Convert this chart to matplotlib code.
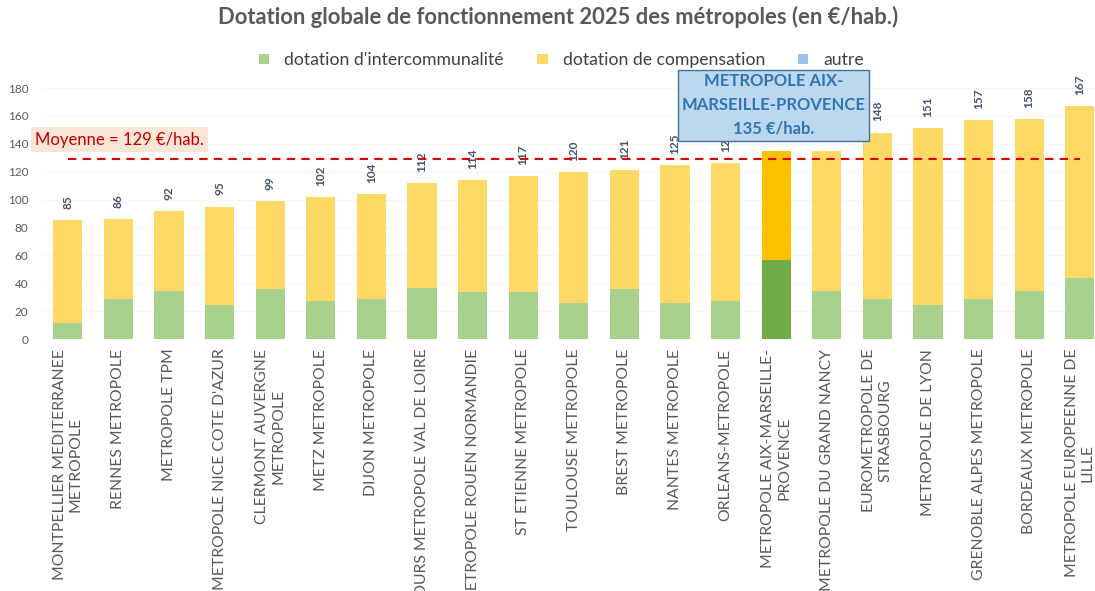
import matplotlib.pyplot as plt
import numpy as np

plt.rcParams['font.family'] = ['Lato', 'DejaVu Sans']

# data
metropoles = [
    "MONTPELLIER MEDITERRANEE\nMETROPOLE", "RENNES METROPOLE", "METROPOLE TPM",
    "METROPOLE NICE COTE D'AZUR", "CLERMONT AUVERGNE\nMETROPOLE", "METZ METROPOLE",
    "DIJON METROPOLE", "TOURS METROPOLE VAL DE LOIRE", "METROPOLE ROUEN NORMANDIE",
    "ST ETIENNE METROPOLE", "TOULOUSE METROPOLE", "BREST METROPOLE",
    "NANTES METROPOLE", "ORLEANS-METROPOLE", "METROPOLE AIX-MARSEILLE-\nPROVENCE",
    "METROPOLE DU GRAND NANCY", "EUROMETROPOLE DE\nSTRASBOURG", "METROPOLE DE LYON",
    "GRENOBLE ALPES METROPOLE", "BORDEAUX METROPOLE", "METROPOLE EUROPEENNE DE\nLILLE",
]
totals = [85, 86, 92, 95, 99, 102, 104, 112, 114, 117, 120, 121, 125, 126, 135, 135,
          148, 151, 157, 158, 167]
intercommunalite = [11.5, 29, 34.5, 24.5, 35.5, 27.5, 29, 36.5, 34, 34, 26, 35.5,
                    26, 27.5, 57, 34.5, 28.5, 24.5, 29, 34.5, 43.5]
autre = [0] * len(totals)
moyenne = 129
highlight = 14  # Aix-Marseille-Provence

compensation = [t - i - a for t, i, a in zip(totals, intercommunalite, autre)]

fig = plt.figure(figsize=(10.95, 5.91), dpi=100)
# axes runs a little past the right edge, as in the cropped original
ax = fig.add_axes([42.5 / 1095, 252 / 591, 21 * 50.6 / 1095, 251 / 591])

x = np.arange(len(totals))
green = ['#A9D18E'] * len(x)
yellow = ['#FFD966'] * len(x)
green[highlight] = '#70AD47'
yellow[highlight] = '#FFC000'

w = 0.575
ax.bar(x, intercommunalite, w, color=green, zorder=2, label="dotation d'intercommunalité")
ax.bar(x, compensation, w, bottom=intercommunalite, color=yellow, zorder=2,
       label="dotation de compensation")
ax.bar(x, autre, w, bottom=np.add(intercommunalite, compensation), color='#9DC3E6',
       zorder=2, label="autre")

for xi, t in zip(x, totals):
    ax.text(xi, t + 8, str(t), rotation=90, ha='center', va='bottom',
            fontsize=8.5, fontweight='bold', color='#44546A', zorder=3)

ax.plot([0, x[-1]], [moyenne, moyenne], color='#E00000', lw=1.5,
        dashes=(4, 3), zorder=4)
ax.text(1.02, 143, "Moyenne = 129 €/hab.", ha='center', va='center', fontsize=12,
        color='#C00000', zorder=5,
        bbox=dict(boxstyle='square,pad=0.25', fc='#FBE5D6', ec='none'))

ax.text(13.95, 167.7, "METROPOLE AIX-\nMARSEILLE-PROVENCE\n135 €/hab.", ha='center',
        va='center', fontsize=12, fontweight='bold', color='#2E75B6',
        linespacing=1.6, zorder=10,
        bbox=dict(boxstyle='square,pad=0.22', fc='#BDD7EE', ec='#41719C', lw=1))

ax.set_xlim(-0.5, len(x) - 0.5)
ax.set_ylim(0, 180)
ax.set_yticks(range(0, 181, 20))
ax.tick_params(axis='y', length=0, labelsize=8.5, labelcolor='#595959', pad=10)
ax.set_xticks(x)
ax.set_xticklabels(metropoles, rotation=90, fontsize=11.3, color='#595959',
                   multialignment='center')
ax.tick_params(axis='x', length=0, pad=7)
ax.grid(axis='y', color='#E3E3E3', lw=0.6, ls=(0, (1, 2)), zorder=0)
for s in ax.spines.values():
    s.set_visible(False)

fig.suptitle("Dotation globale de fonctionnement 2025 des métropoles (en €/hab.)",
             x=0.51, y=0.99, fontsize=15.8, fontweight='bold', color='#595959')
fig.legend(loc='center', bbox_to_anchor=(0.513, 0.898), ncol=3, frameon=False,
           fontsize=12.7, handlelength=0.57, handleheight=0.57, handletextpad=0.85,
           columnspacing=1.9, labelcolor='#404040')

fig.savefig('out.png', dpi=100)
